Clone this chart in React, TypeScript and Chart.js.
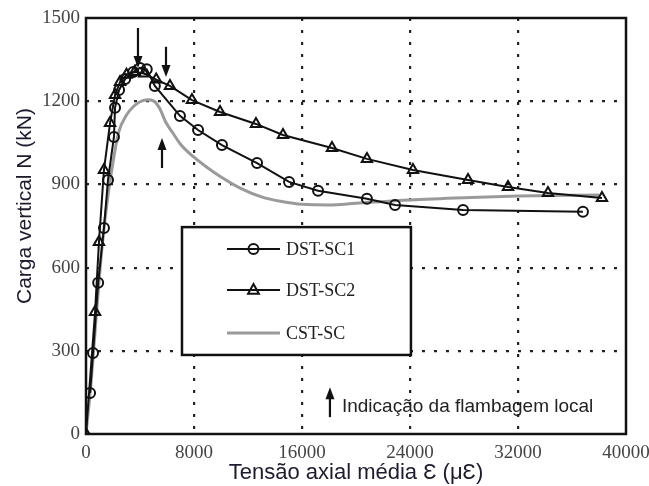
import React, { useEffect, useRef } from "react";
import { Chart, registerables } from "chart.js";

Chart.register(...registerables);

// DST-SC1 (circles)
const sc1X = [300, 520, 900, 1330, 1630, 2070, 2150, 2450, 2900, 3500, 4000, 4500, 5100, 6960, 8300, 10070, 12670, 15040, 17190, 20810, 22890, 27930, 36810];
const sc1Y = [148, 292, 545, 743, 916, 1071, 1176, 1240, 1280, 1305, 1320, 1315, 1255, 1147, 1096, 1042, 977, 909, 877, 848, 826, 808, 801];

// DST-SC2 (triangles)
const sc2X = [0, 670, 960, 1330, 1780, 2150, 2520, 3000, 3600, 4300, 5200, 6220, 7850, 9930, 12590, 14590, 18220, 20810, 24220, 28300, 31260, 34220, 38220];
const sc2Y = [0, 440, 692, 952, 1121, 1222, 1269, 1295, 1305, 1300, 1278, 1255, 1204, 1161, 1118, 1078, 1031, 992, 952, 916, 891, 869, 851];

// CST-SC (grey line)
const cstX = [0, 400, 800, 1200, 1600, 2000, 2400, 3000, 3500, 4000, 4600, 5100, 5500, 5900, 6400, 7000, 8000, 9000, 10000, 11500, 13000, 14500, 16000, 18000, 20000, 24000, 28000, 32000, 38000];
const cstY = [0, 200, 450, 680, 850, 980, 1085, 1150, 1180, 1198, 1205, 1198, 1170, 1125, 1088, 1045, 998, 960, 927, 885, 855, 838, 828, 826, 832, 844, 852, 858, 862];

const seriesNames = ["DST-SC1", "DST-SC2", "CST-SC"];
const xTicks = [0, 8000, 16000, 24000, 32000, 40000];
const yTicks = [0, 300, 600, 900, 1200, 1500];
const xTitle = "Tensão axial média Ɛ (μƐ)";
const yTitle = "Carga vertical N (kN)";
const noteText = "Indicação da flambagem local";

// arrows: [x, yStart, yTip] in data units
const arrows = [
  [3850, 1464, 1320],
  [5926, 1396, 1287],
  [5630, 959, 1067],
  [18070, 61, 169],
];
const noteAt = [18960, 97];
const legendBox = [7110, 24070, 746, 285]; // x1, x2, yTop, yBottom (data units)

const serif = "'Liberation Serif', 'Times New Roman', serif";
const sans = "'Liberation Sans', Arial, sans-serif";

const zip = (xs: number[], ys: number[]) => xs.map((x, i) => ({ x, y: ys[i] }));

const overlay = {
  id: "overlay",
  afterDraw(chart: any) {
    const { ctx, chartArea: a, scales } = chart;
    const xs = scales.x, ys = scales.y;
    ctx.save();
    // frame
    ctx.strokeStyle = "#111";
    ctx.lineWidth = 2.5;
    ctx.strokeRect(a.left, a.top, a.right - a.left, a.bottom - a.top);

    // legend box
    const lx1 = xs.getPixelForValue(legendBox[0]);
    const lx2 = xs.getPixelForValue(legendBox[1]);
    const ly1 = ys.getPixelForValue(legendBox[2]);
    const ly2 = ys.getPixelForValue(legendBox[3]);
    ctx.fillStyle = "#fff";
    ctx.fillRect(lx1, ly1, lx2 - lx1, ly2 - ly1);
    ctx.strokeStyle = "#111";
    ctx.lineWidth = 2.5;
    ctx.strokeRect(lx1, ly1, lx2 - lx1, ly2 - ly1);
    const rows = [ly1 + 22, ly1 + 63, ly1 + 106];
    const segA = lx1 + 45, segB = lx1 + 98;
    chart.data.datasets.forEach((ds: any, i: number) => {
      const y = rows[i];
      ctx.strokeStyle = ds.borderColor;
      ctx.lineWidth = ds.borderWidth;
      ctx.beginPath();
      ctx.moveTo(segA, y);
      ctx.lineTo(segB, y);
      ctx.stroke();
      const cx = (segA + segB) / 2;
      ctx.lineWidth = 2;
      ctx.strokeStyle = "#111";
      if (ds.pointStyle === "circle" && ds.pointRadius > 0) {
        ctx.beginPath();
        ctx.arc(cx, y, ds.pointRadius, 0, Math.PI * 2);
        ctx.stroke();
      } else if (ds.pointStyle === "triangle" && ds.pointRadius > 0) {
        const r = ds.pointRadius;
        ctx.beginPath();
        ctx.moveTo(cx, y - r);
        ctx.lineTo(cx + r * 0.9, y + r * 0.6);
        ctx.lineTo(cx - r * 0.9, y + r * 0.6);
        ctx.closePath();
        ctx.stroke();
      }
      ctx.fillStyle = "#222";
      ctx.font = `18px ${serif}`;
      ctx.textAlign = "left";
      ctx.textBaseline = "middle";
      ctx.fillText(ds.label, segB + 6, y + 1);
    });

    // arrows
    ctx.strokeStyle = "#111";
    ctx.fillStyle = "#111";
    arrows.forEach(([x, y0, y1]) => {
      const px = xs.getPixelForValue(x);
      const p0 = ys.getPixelForValue(y0);
      const p1 = ys.getPixelForValue(y1);
      const dir = p1 > p0 ? 1 : -1;
      ctx.lineWidth = 2.2;
      ctx.beginPath();
      ctx.moveTo(px, p0);
      ctx.lineTo(px, p1 - dir * 8);
      ctx.stroke();
      ctx.beginPath();
      ctx.moveTo(px, p1);
      ctx.lineTo(px - 4.5, p1 - dir * 12);
      ctx.lineTo(px + 4.5, p1 - dir * 12);
      ctx.closePath();
      ctx.fill();
    });

    // note
    ctx.fillStyle = "#222";
    ctx.font = `19px ${sans}`;
    ctx.textAlign = "left";
    ctx.textBaseline = "middle";
    ctx.fillText(noteText, xs.getPixelForValue(noteAt[0]), ys.getPixelForValue(noteAt[1]));

    // axis titles
    ctx.font = `22px ${sans}`;
    ctx.fillStyle = "#1c1c2c";
    ctx.textAlign = "center";
    ctx.textBaseline = "middle";
    ctx.fillText(xTitle, (a.left + a.right) / 2, a.bottom + 39);
    ctx.font = `21px ${sans}`;
    ctx.translate(25, (a.top + a.bottom) / 2 - 20);
    ctx.rotate(-Math.PI / 2);
    ctx.fillText(yTitle, 0, 0);
    ctx.restore();
  },
};

export default function App() {
  const ref = useRef<HTMLCanvasElement>(null);
  useEffect(() => {
    if (!ref.current) return;
    const hideEdge = (min: number, max: number) => (c: any) =>
      c.tick && (c.tick.value === min || c.tick.value === max) ? "rgba(0,0,0,0)" : "#222";
    const chart = new Chart(ref.current, {
      type: "line",
      data: {
        datasets: [
          {
            label: seriesNames[0],
            data: zip(sc1X, sc1Y),
            borderColor: "#111",
            borderWidth: 2,
            pointStyle: "circle",
            pointRadius: 5,
            pointBorderWidth: 2,
            pointBorderColor: "#111",
            pointBackgroundColor: "rgba(0,0,0,0)",
            tension: 0,
          },
          {
            label: seriesNames[1],
            data: zip(sc2X, sc2Y),
            borderColor: "#111",
            borderWidth: 2,
            pointStyle: "triangle",
            pointRadius: 6,
            pointBorderWidth: 2,
            pointBorderColor: "#111",
            pointBackgroundColor: "rgba(0,0,0,0)",
            tension: 0,
          },
          {
            label: seriesNames[2],
            data: zip(cstX, cstY),
            borderColor: "#9a9a9a",
            borderWidth: 3,
            pointRadius: 0,
            pointStyle: "line",
            cubicInterpolationMode: "monotone",
          },
        ],
      } as any,
      options: {
        animation: false,
        responsive: true,
        maintainAspectRatio: false,
        layout: { padding: { top: 18, right: 23, left: 0, bottom: 0 } },
        plugins: { legend: { display: false }, tooltip: { enabled: false } },
        scales: {
          x: {
            type: "linear",
            min: xTicks[0],
            max: xTicks[xTicks.length - 1],
            afterBuildTicks: (s: any) => {
              s.ticks = xTicks.map((v) => ({ value: v }));
            },
            afterFit: (s: any) => {
              s.height = 52;
              s.paddingRight = 0;
              s.paddingLeft = 0;
            },
            ticks: {
              padding: 8,
              color: "#444",
              font: { family: serif, size: 19 },
              maxRotation: 0,
              callback: (v: any) => String(v),
            },
            grid: {
              color: hideEdge(xTicks[0], xTicks[xTicks.length - 1]),
              lineWidth: 2.2,
              drawTicks: false,
            } as any,
            border: { display: false, dash: [3, 9] } as any,
          },
          y: {
            type: "linear",
            min: yTicks[0],
            max: yTicks[yTicks.length - 1],
            afterBuildTicks: (s: any) => {
              s.ticks = yTicks.map((v) => ({ value: v }));
            },
            afterFit: (s: any) => {
              s.width = 86;
              s.paddingTop = 0;
              s.paddingBottom = 0;
            },
            ticks: {
              padding: 6,
              color: "#444",
              font: { family: serif, size: 19 },
              callback: (v: any) => String(v),
            },
            grid: {
              color: hideEdge(yTicks[0], yTicks[yTicks.length - 1]),
              lineWidth: 2.2,
              drawTicks: false,
            },
            border: { display: false, dash: [3, 9] } as any,
          },
        },
      } as any,
      plugins: [overlay],
    });
    return () => chart.destroy();
  }, []);
  return (
    <div style={{ position: "fixed", left: 0, top: 0, width: 649, height: 486, background: "#fff" }}>
      <canvas ref={ref} />
    </div>
  );
}
